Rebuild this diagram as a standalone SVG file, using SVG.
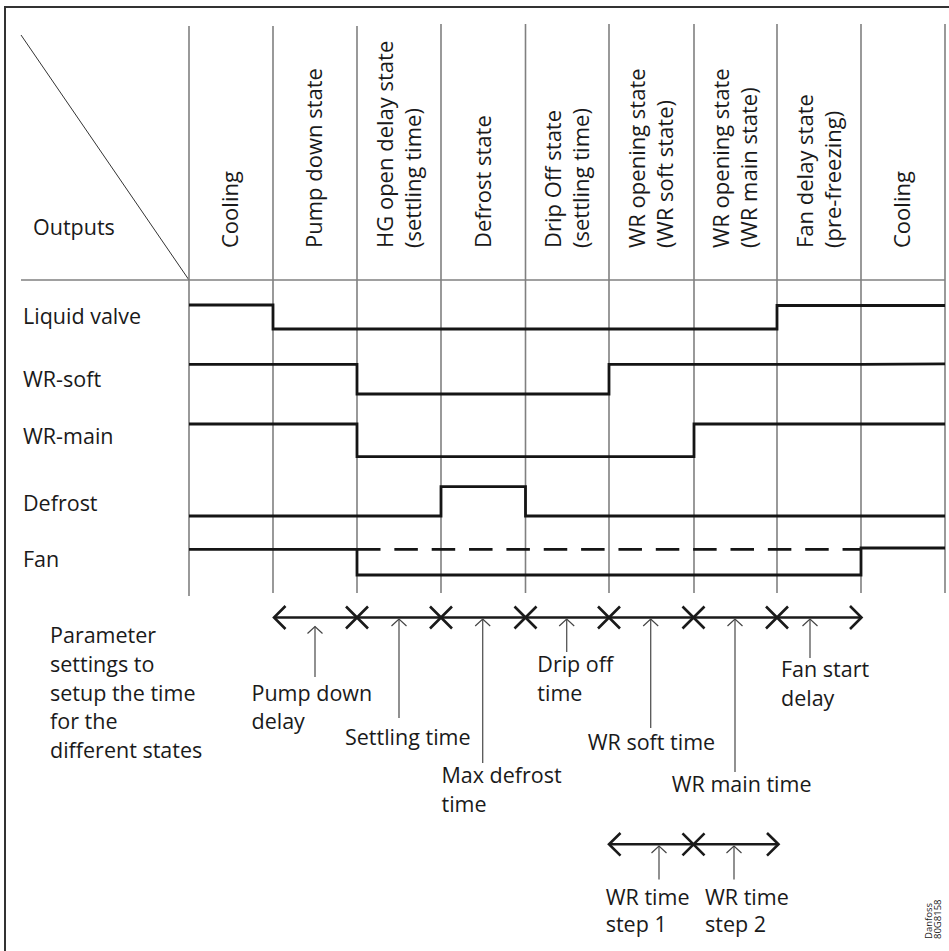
<svg xmlns="http://www.w3.org/2000/svg" width="949" height="951" viewBox="0 0 949 951">
<style>
  text { font-family: "Open Sans", "Liberation Sans", sans-serif; font-size: 21.5px; fill: #1a1a1a; }
  .rot { font-size: 22px; }
  .grid { stroke: #808080; stroke-width: 1.6; fill: none; }
  .frame { stroke: #333; stroke-width: 2; fill: none; }
  .wave { stroke: #151515; stroke-width: 2.8; fill: none; stroke-linejoin: miter; }
  .dash { stroke: #151515; stroke-width: 2.8; fill: none; stroke-dasharray: 23.5 13.85; }
  .tl { stroke: #1a1a1a; stroke-width: 2.6; fill: none; }
  .ptr { stroke: #555; stroke-width: 1.3; fill: none; marker-start: url(#ah); }
  .small { font-size: 9.5px; }
</style>
<defs>
  <marker id="ah" markerUnits="userSpaceOnUse" markerWidth="20" markerHeight="20" viewBox="-10 -10 20 20" refX="0" refY="0" orient="auto" overflow="visible">
    <path d="M7,-7.5 L0,0 L7,7.5" fill="none" stroke="#444" stroke-width="1.2"/>
  </marker>
</defs>

<g id="frame">
  <path class="frame" d="M5,951 V7 H949"/>
</g>

<g id="grid">
  <line class="grid" x1="21" y1="280" x2="945" y2="280"/>
  <line x1="21" y1="35" x2="189" y2="280" stroke="#333" stroke-width="1"/>
  <line class="grid" x1="189" y1="26" x2="189" y2="596"/>
  <line class="grid" x1="273" y1="26" x2="273" y2="593"/>
  <line class="grid" x1="357" y1="26" x2="357" y2="593"/>
  <line class="grid" x1="441" y1="24" x2="441" y2="593"/>
  <line class="grid" x1="525.5" y1="24" x2="525.5" y2="593"/>
  <line class="grid" x1="609" y1="24" x2="609" y2="593"/>
  <line class="grid" x1="694" y1="24" x2="694" y2="593"/>
  <line class="grid" x1="777" y1="24" x2="777" y2="593"/>
  <line class="grid" x1="861" y1="24" x2="861" y2="593"/>
  <line class="grid" x1="945" y1="24" x2="945" y2="593"/>
</g>

<g id="outputs-label"><text x="33" y="235">Outputs</text></g>

<g id="states">
  <g id="s1"><text class="rot" transform="translate(238,248) rotate(-90)">Cooling</text></g>
  <g id="s2"><text class="rot" transform="translate(322,248) rotate(-90)">Pump down state</text></g>
  <g id="s3"><text class="rot" transform="translate(392.5,248) rotate(-90)">HG open delay state</text><text class="rot" transform="translate(420.5,248) rotate(-90)">(settling time)</text></g>
  <g id="s4"><text class="rot" transform="translate(490.5,248) rotate(-90)">Defrost state</text></g>
  <g id="s5"><text class="rot" transform="translate(561,248) rotate(-90)">Drip Off state</text><text class="rot" transform="translate(589,248) rotate(-90)">(settling time)</text></g>
  <g id="s6"><text class="rot" transform="translate(645,248) rotate(-90)">WR opening state</text><text class="rot" transform="translate(673,248) rotate(-90)">(WR soft state)</text></g>
  <g id="s7"><text class="rot" transform="translate(729,248) rotate(-90)">WR opening state</text><text class="rot" transform="translate(757,248) rotate(-90)">(WR main state)</text></g>
  <g id="s8"><text class="rot" transform="translate(812.5,248) rotate(-90)">Fan delay state</text><text class="rot" transform="translate(840.5,248) rotate(-90)">(pre-freezing)</text></g>
  <g id="s9"><text class="rot" transform="translate(910,248) rotate(-90)">Cooling</text></g>
</g>

<g id="liquid-valve">
  <text x="23" y="324">Liquid valve</text>
  <path class="wave" d="M189,305 H273 V329 H777 V305.5 H945"/>
</g>
<g id="wr-soft">
  <text x="23" y="386.5">WR-soft</text>
  <path class="wave" d="M189,364.3 H357 V394 H609 V364.3 H861 L945,363.8"/>
</g>
<g id="wr-main">
  <text x="23" y="444">WR-main</text>
  <path class="wave" d="M189,424 H357 V456.7 H694 V424 H945"/>
</g>
<g id="defrost">
  <text x="23" y="510.5">Defrost</text>
  <path class="wave" d="M189,516 H441 V486.7 H525.5 V516 H945"/>
</g>
<g id="fan">
  <text x="23" y="566.5">Fan</text>
  <path class="wave" d="M189,549.3 H357 V575 H861 V548 H945"/>
  <path class="dash" d="M357,549.3 H861"/>
</g>

<g id="connectors">
  <g id="timeline">
    <line class="tl" x1="274" y1="617.5" x2="861" y2="617.5"/>
    <polyline class="tl" points="285.5,606 274,617.5 285.5,629"/>
    <polyline class="tl" points="850,606 861.5,617.5 850,629"/>
    <path class="tl" d="M346,606.5 L368,628.5 M346,628.5 L368,606.5"/>
    <path class="tl" d="M430,606.5 L452,628.5 M430,628.5 L452,606.5"/>
    <path class="tl" d="M514.5,606.5 L536.5,628.5 M514.5,628.5 L536.5,606.5"/>
    <path class="tl" d="M598,606.5 L620,628.5 M598,628.5 L620,606.5"/>
    <path class="tl" d="M682.5,606.5 L704.5,628.5 M682.5,628.5 L704.5,606.5"/>
    <path class="tl" d="M766,606.5 L788,628.5 M766,628.5 L788,606.5"/>
  </g>
  <g id="pointers">
    <line class="ptr" x1="315" y1="626.5" x2="315" y2="677"/>
    <line class="ptr" x1="399" y1="619" x2="399" y2="718"/>
    <line class="ptr" x1="482.7" y1="619" x2="482.7" y2="763"/>
    <line class="ptr" x1="566.7" y1="619" x2="566.7" y2="652"/>
    <line class="ptr" x1="650.7" y1="619" x2="650.7" y2="728"/>
    <line class="ptr" x1="735" y1="619" x2="735" y2="772"/>
    <line class="ptr" x1="810" y1="619" x2="810" y2="658"/>
  </g>
  <g id="timeline2">
    <line class="tl" x1="609" y1="844.3" x2="778" y2="844.3"/>
    <polyline class="tl" points="620.5,833 609,844.3 620.5,855.6"/>
    <polyline class="tl" points="767,833 778.5,844.3 767,855.6"/>
    <path class="tl" d="M682.5,833.3 L704.5,855.3 M682.5,855.3 L704.5,833.3"/>
    <line class="ptr" x1="659" y1="846" x2="659" y2="879.5"/>
    <line class="ptr" x1="734" y1="846" x2="734" y2="879.5"/>
  </g>
</g>

<g id="param-label">
  <text x="50" y="643.3">Parameter</text>
  <text x="50" y="671.8">settings to</text>
  <text x="50" y="700.5">setup the time</text>
  <text x="50" y="729">for the</text>
  <text x="50" y="758">different states</text>
</g>
<g id="lbl-pump"><text x="251.5" y="700.5">Pump down</text><text x="251.5" y="729">delay</text></g>
<g id="lbl-settling"><text x="345" y="745">Settling time</text></g>
<g id="lbl-maxdefrost"><text x="441.5" y="783.3">Max defrost</text><text x="441.5" y="811.7">time</text></g>
<g id="lbl-drip"><text x="537.3" y="671.7">Drip off</text><text x="537.3" y="700.5">time</text></g>
<g id="lbl-wrsoft"><text x="587.7" y="750">WR soft time</text></g>
<g id="lbl-wrmain"><text x="671.7" y="792.3">WR main time</text></g>
<g id="lbl-fan"><text x="781" y="676.7">Fan start</text><text x="781" y="706">delay</text></g>
<g id="lbl-step1"><text x="605.7" y="905">WR time</text><text x="605.7" y="931.7">step 1</text></g>
<g id="lbl-step2"><text x="705" y="905">WR time</text><text x="705" y="931.7">step 2</text></g>
<g id="ref"><text class="small" transform="translate(931.5,939) rotate(-90)">Danfoss</text><text class="small" transform="translate(940.5,939) rotate(-90)">80G8158</text></g>
</svg>
